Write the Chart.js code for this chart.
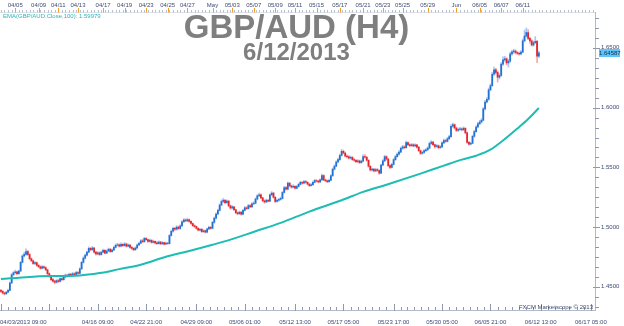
<!DOCTYPE html>
<html><head><meta charset="utf-8">
<script src="https://cdn.jsdelivr.net/npm/chart.js@4/dist/chart.umd.min.js"></script>
<style>
html,body{margin:0;padding:0;background:#fff;}
#wrap{position:relative;width:624px;height:326px;overflow:hidden;font-family:"Liberation Sans",Arial,sans-serif;}
canvas{position:absolute;left:0;top:0;}
.t{position:absolute;white-space:nowrap;}
.ax{font-size:6px;line-height:7px;color:#3e4b75;}
#title{left:0;width:593px;text-align:center;top:9.6px;font-size:33px;line-height:33px;font-weight:bold;color:#7f7f7f;}
#sub{left:0;width:593px;text-align:center;top:39.7px;font-size:24px;line-height:24px;font-weight:bold;color:#7f7f7f;}
#legend{left:3px;top:12px;font-size:6px;line-height:8px;color:#2fb4b4;}
#mark{right:31px;top:302.7px;font-size:6px;line-height:8px;color:#3e4a6e;}
#price{left:599px;width:21px;height:8px;font-size:6px;line-height:8px;text-align:center;background:#5cc6f7;color:#1b2a55;z-index:2;}
</style></head><body>
<div id="wrap">
<canvas id="c" width="624" height="326"></canvas>
<div class="t" id="title">GBP/AUD (H4)</div>
<div class="t" id="sub">6/12/2013</div>
<div class="t" id="legend">EMA(GBP/AUD.Close,100): 1.59979</div>
<div class="t" id="mark">FXCM Marketscope © 2013</div>
<div class="t" id="price">1.64587</div>
</div>
<script>
// ---- data (4-hour candles, 04/03/2013 09:00 ... 06/12/2013) ----
const firstOpen = 1.4470;
const closes = [
1.4462,1.4448,1.4441,1.4455,1.4470,1.4532,1.4601,1.4618,1.4625,1.4610,
1.4632,1.4705,1.4758,1.4772,1.4795,1.4770,1.4735,1.4718,1.4695,1.4702,
1.4680,1.4668,1.4655,1.4668,1.4660,1.4642,1.4610,1.4585,1.4560,1.4548,
1.4538,1.4552,1.4545,1.4568,1.4560,1.4582,1.4598,1.4590,1.4605,1.4598,
1.4610,1.4602,1.4620,1.4612,1.4650,1.4705,1.4740,1.4765,1.4790,1.4822,
1.4810,1.4825,1.4790,1.4775,1.4785,1.4770,1.4790,1.4805,1.4782,1.4800,
1.4815,1.4795,1.4808,1.4830,1.4848,1.4852,1.4840,1.4855,1.4845,1.4858,
1.4840,1.4850,1.4830,1.4822,1.4810,1.4825,1.4850,1.4865,1.4885,1.4878,
1.4905,1.4895,1.4880,1.4890,1.4872,1.4880,1.4868,1.4862,1.4875,1.4860,
1.4870,1.4858,1.4866,1.4862,1.4930,1.4965,1.4990,1.4982,1.5000,1.4988,
1.5010,1.5045,1.5060,1.5052,1.5062,1.5048,1.5030,1.5012,1.5005,1.4990,
1.4975,1.4982,1.4962,1.4970,1.4958,1.4985,1.4998,1.4990,1.5040,1.5075,
1.5110,1.5140,1.5185,1.5215,1.5225,1.5205,1.5218,1.5178,1.5160,1.5170,
1.5145,1.5120,1.5112,1.5125,1.5108,1.5140,1.5162,1.5155,1.5180,1.5170,
1.5195,1.5200,1.5235,1.5262,1.5270,1.5245,1.5220,1.5210,1.5225,1.5218,
1.5270,1.5285,1.5250,1.5215,1.5225,1.5232,1.5240,1.5290,1.5330,1.5318,
1.5368,1.5345,1.5335,1.5342,1.5325,1.5340,1.5358,1.5375,1.5368,1.5382,
1.5375,1.5360,1.5348,1.5355,1.5375,1.5390,1.5385,1.5378,1.5395,1.5432,
1.5395,1.5388,1.5380,1.5392,1.5430,1.5485,1.5510,1.5545,1.5565,1.5600,
1.5635,1.5620,1.5595,1.5590,1.5578,1.5585,1.5565,1.5560,1.5548,1.5555,
1.5540,1.5552,1.5590,1.5585,1.5560,1.5510,1.5478,1.5485,1.5470,1.5482,
1.5475,1.5452,1.5520,1.5555,1.5590,1.5570,1.5515,1.5500,1.5525,1.5565,
1.5590,1.5610,1.5628,1.5660,1.5672,1.5665,1.5708,1.5690,1.5682,1.5690,
1.5680,1.5688,1.5670,1.5640,1.5618,1.5625,1.5640,1.5648,1.5662,1.5700,
1.5712,1.5690,1.5675,1.5682,1.5665,1.5672,1.5705,1.5725,1.5718,1.5740,
1.5758,1.5845,1.5858,1.5830,1.5810,1.5818,1.5822,1.5815,1.5828,1.5790,
1.5710,1.5695,1.5702,1.5760,1.5800,1.5838,1.5865,1.5880,1.5895,1.5990,
1.6048,1.6070,1.6150,1.6185,1.6280,1.6318,1.6295,1.6255,1.6270,1.6365,
1.6400,1.6410,1.6375,1.6390,1.6450,1.6468,1.6475,1.6462,1.6455,1.6450,
1.6465,1.6560,1.6600,1.6630,1.6580,1.6560,1.6525,1.6545,1.6555,1.6432,
1.64587];
const highs = [
1.4478,1.4468,1.4455,1.4462,1.4480,1.4540,1.4610,1.4628,1.4640,1.4632,
1.4640,1.4712,1.4768,1.4790,1.4818,1.4805,1.4778,1.4742,1.4725,1.4712,
1.4708,1.4690,1.4675,1.4678,1.4675,1.4668,1.4648,1.4618,1.4592,1.4570,
1.4555,1.4560,1.4562,1.4575,1.4578,1.4590,1.4608,1.4605,1.4615,1.4612,
1.4620,1.4618,1.4630,1.4628,1.4660,1.4712,1.4752,1.4775,1.4800,1.4835,
1.4830,1.4838,1.4830,1.4798,1.4795,1.4792,1.4800,1.4815,1.4812,1.4808,
1.4825,1.4820,1.4818,1.4840,1.4860,1.4865,1.4860,1.4868,1.4862,1.4870,
1.4865,1.4860,1.4855,1.4838,1.4828,1.4835,1.4858,1.4875,1.4895,1.4898,
1.4915,1.4912,1.4900,1.4900,1.4895,1.4890,1.4885,1.4878,1.4885,1.4880,
1.4878,1.4875,1.4875,1.4872,1.4938,1.4975,1.5000,1.4998,1.5012,1.5008,
1.5020,1.5055,1.5072,1.5068,1.5075,1.5068,1.5052,1.5035,1.5020,1.5010,
1.4995,1.4990,1.4988,1.4978,1.4975,1.4992,1.5008,1.5005,1.5048,1.5085,
1.5120,1.5150,1.5195,1.5228,1.5240,1.5232,1.5228,1.5222,1.5185,1.5180,
1.5175,1.5150,1.5128,1.5135,1.5130,1.5148,1.5172,1.5170,1.5190,1.5188,
1.5205,1.5212,1.5245,1.5272,1.5285,1.5278,1.5250,1.5228,1.5235,1.5232,
1.5278,1.5298,1.5290,1.5255,1.5235,1.5242,1.5252,1.5298,1.5342,1.5340,
1.5378,1.5375,1.5352,1.5355,1.5348,1.5350,1.5368,1.5385,1.5382,1.5392,
1.5390,1.5380,1.5365,1.5365,1.5385,1.5400,1.5398,1.5392,1.5405,1.5445,
1.5438,1.5402,1.5395,1.5402,1.5440,1.5495,1.5522,1.5555,1.5578,1.5612,
1.5650,1.5645,1.5628,1.5605,1.5598,1.5595,1.5590,1.5575,1.5568,1.5565,
1.5562,1.5562,1.5605,1.5608,1.5592,1.5565,1.5515,1.5495,1.5490,1.5492,
1.5490,1.5480,1.5528,1.5565,1.5602,1.5598,1.5575,1.5522,1.5535,1.5575,
1.5600,1.5622,1.5640,1.5670,1.5685,1.5682,1.5720,1.5715,1.5698,1.5700,
1.5698,1.5698,1.5692,1.5675,1.5645,1.5635,1.5650,1.5658,1.5672,1.5712,
1.5725,1.5718,1.5695,1.5692,1.5688,1.5682,1.5715,1.5738,1.5735,1.5752,
1.5770,1.5858,1.5872,1.5865,1.5838,1.5830,1.5835,1.5832,1.5840,1.5832,
1.5795,1.5718,1.5712,1.5770,1.5812,1.5850,1.5878,1.5895,1.5910,1.6002,
1.6060,1.6085,1.6165,1.6200,1.6295,1.6340,1.6330,1.6305,1.6285,1.6378,
1.6425,1.6430,1.6418,1.6405,1.6465,1.6480,1.6490,1.6485,1.6470,1.6465,
1.6478,1.6575,1.6650,1.6668,1.6655,1.6590,1.6570,1.6560,1.6595,1.6565,
1.6475];
const lows = [
1.4452,1.4440,1.4432,1.4436,1.4450,1.4466,1.4528,1.4592,1.4608,1.4600,
1.4605,1.4628,1.4700,1.4750,1.4765,1.4762,1.4728,1.4710,1.4688,1.4685,
1.4672,1.4660,1.4648,1.4650,1.4652,1.4635,1.4602,1.4578,1.4552,1.4538,
1.4525,1.4530,1.4535,1.4540,1.4552,1.4555,1.4575,1.4582,1.4585,1.4590,
1.4592,1.4595,1.4598,1.4605,1.4608,1.4645,1.4698,1.4732,1.4758,1.4785,
1.4800,1.4805,1.4782,1.4765,1.4768,1.4762,1.4765,1.4785,1.4775,1.4778,
1.4795,1.4788,1.4790,1.4802,1.4825,1.4840,1.4832,1.4835,1.4838,1.4840,
1.4832,1.4835,1.4822,1.4812,1.4802,1.4805,1.4820,1.4845,1.4860,1.4870,
1.4872,1.4888,1.4872,1.4875,1.4865,1.4866,1.4860,1.4855,1.4858,1.4852,
1.4855,1.4850,1.4852,1.4855,1.4858,1.4925,1.4958,1.4972,1.4975,1.4980,
1.4982,1.5005,1.5038,1.5045,1.5045,1.5040,1.5022,1.5005,1.4995,1.4982,
1.4968,1.4968,1.4955,1.4955,1.4950,1.4952,1.4978,1.4982,1.4985,1.5032,
1.5068,1.5102,1.5135,1.5178,1.5205,1.5195,1.5198,1.5170,1.5150,1.5152,
1.5138,1.5112,1.5102,1.5105,1.5100,1.5102,1.5135,1.5148,1.5150,1.5162,
1.5165,1.5188,1.5195,1.5228,1.5255,1.5238,1.5212,1.5200,1.5205,1.5210,
1.5212,1.5262,1.5242,1.5205,1.5208,1.5218,1.5225,1.5235,1.5285,1.5310,
1.5312,1.5338,1.5325,1.5328,1.5318,1.5320,1.5335,1.5352,1.5360,1.5362,
1.5368,1.5352,1.5340,1.5342,1.5350,1.5370,1.5378,1.5370,1.5372,1.5390,
1.5388,1.5380,1.5372,1.5375,1.5388,1.5425,1.5478,1.5505,1.5538,1.5558,
1.5595,1.5612,1.5588,1.5580,1.5570,1.5570,1.5558,1.5550,1.5540,1.5540,
1.5532,1.5535,1.5548,1.5578,1.5552,1.5502,1.5470,1.5468,1.5462,1.5465,
1.5465,1.5442,1.5448,1.5515,1.5548,1.5560,1.5505,1.5490,1.5495,1.5520,
1.5558,1.5585,1.5602,1.5622,1.5652,1.5655,1.5660,1.5682,1.5672,1.5675,
1.5672,1.5672,1.5662,1.5632,1.5608,1.5610,1.5618,1.5632,1.5640,1.5655,
1.5692,1.5682,1.5662,1.5668,1.5655,1.5658,1.5668,1.5698,1.5710,1.5712,
1.5732,1.5752,1.5835,1.5820,1.5800,1.5802,1.5810,1.5805,1.5808,1.5780,
1.5700,1.5685,1.5688,1.5698,1.5752,1.5795,1.5830,1.5858,1.5872,1.5890,
1.5982,1.6040,1.6062,1.6140,1.6178,1.6270,1.6280,1.6215,1.6240,1.6262,
1.6355,1.6388,1.6360,1.6340,1.6380,1.6440,1.6455,1.6450,1.6445,1.6440,
1.6442,1.6460,1.6552,1.6590,1.6570,1.6540,1.6515,1.6515,1.6535,1.6378,
1.6420];
// EMA(100) read at sampled bars
const emaBars = [0,16,27,44,55,66,78,92,105,118,128,142,156,172,190,202,215,234,247,257,265,273,280,288,294,300];
const emaValues = [1.4565,1.4583,1.4590,1.4595,1.4615,1.4648,1.4685,1.4752,1.4800,1.4852,1.4895,1.4965,1.5035,1.5130,1.5225,1.5295,1.5355,1.5448,1.5515,1.5565,1.5598,1.5648,1.5725,1.5825,1.5905,1.59979];
// axis ticks
const bottomTickBars = [0,27,54,81,109,136,164,191,219,246,273,301,329];
const bottomTickLabels = ["04/03/2013 09:00","","04/16 09:00","04/22 21:00","04/29 09:00","05/06 01:00","05/12 13:00","05/17 05:00","05/23 17:00","05/30 05:00","06/05 21:00","06/12 13:00","06/17 05:00"];
const topTickBars = [8,21,32,43,57,69,81,93,104,118,129,141,153,164,176,189,202,213,224,238,254,267,279,291];
const topTickLabels = ["04/05","04/09","04/11","04/13","04/17","04/19","04/23","04/25","04/27","May","05/03","05/07","05/09","05/11","05/15","05/17","05/21","05/23","05/25","05/29","Jun","06/05","06/07","06/11"];
const priceTicks = [1.45,1.50,1.55,1.60,1.65];
const priceTickLabels = ["1.4500","1.5000","1.5500","1.6000","1.6500"];
const lastPrice = 1.64587;

// ---- chart ----
const opens = closes.map((c,i)=> i===0 ? firstOpen : closes[i-1]);
const bars = closes.map((_,i)=>i);
const UP='#2170d4', DOWN='#e4232b', UPW='#a9c6ee', DOWNW='#f3a7aa';
const XMIN=-0.5, XMAX=331.3;
let textBuilt=false;

function buildAxisText(chart){
  const wrap=document.getElementById('wrap'); const x=chart.scales.x, y=chart.scales.y, a=chart.chartArea;
  const add=(txt,left,top,center)=>{const d=document.createElement('div'); d.className='t ax'; d.textContent=txt; d.style.left=left+'px'; d.style.top=top+'px'; if(center) d.style.transform='translateX(-50%)'; wrap.appendChild(d); return d;};
  bottomTickBars.forEach((b,k)=>{ const t=bottomTickLabels[k]; if(!t) return; const p=x.getPixelForValue(b); if(k===0) add(t,0,318.5,false); else add(t,p,318.5,true); });
  topTickBars.forEach((b,k)=>{ add(topTickLabels[k], x.getPixelForValue(b), 1.5, true); });
  priceTicks.forEach((v,k)=>{ add(priceTickLabels[k], a.right+6, y.getPixelForValue(v)-3.5, false); });
}

const ruler = {
  id:'ruler',
  afterDraw(chart){
    const {ctx, chartArea:a, scales} = chart;
    const x = scales.x, y = scales.y;
    const ln=(x1,y1,x2,y2,c)=>{ctx.strokeStyle=c;ctx.beginPath();ctx.moveTo(x1,y1);ctx.lineTo(x2,y2);ctx.stroke();};
    ctx.save(); ctx.lineWidth=1;
    ln(a.left, a.top+0.5, a.right, a.top+0.5, '#dde1e8');
    for(let v=0; v<=XMAX; v+=2){ const p=Math.round(x.getPixelForValue(v))+0.5; ln(p,a.top-2,p,a.top+0.5,'#b9bfcc'); }
    topTickBars.forEach(v=>{ const p=Math.round(x.getPixelForValue(v))+0.5; ln(p,a.top-4,p,a.top+0.5,'#f0a02a'); });
    for(let k=0;k<bottomTickBars.length-1;k++){
      const b0=bottomTickBars[k], b1=bottomTickBars[k+1];
      for(let s=1;s<7;s++){ const p=Math.round(x.getPixelForValue(b0+(b1-b0)*s/7))+0.5; ln(p,a.bottom-3,p,a.bottom,'#8f98ad'); }
    }
    bottomTickBars.forEach(v=>{ const p=Math.round(x.getPixelForValue(v))+0.5; ln(p,a.bottom-6,p,a.bottom+1,'#8f98ad'); });
    for(let v=1.4; v<=1.7; v+=0.05/6){ const py=Math.round(y.getPixelForValue(v))+0.5; if(py<a.top||py>a.bottom) continue; ln(a.right,py,a.right+4,py,'#8f98ad'); }
    priceTicks.forEach(v=>{ const py=Math.round(y.getPixelForValue(v))+0.5; ln(a.right-2,py,a.right+5,py,'#8f98ad'); });
    ctx.restore();
    document.getElementById('price').style.top=(y.getPixelForValue(lastPrice)-4)+'px';
    if(!textBuilt){ textBuilt=true; buildAxisText(chart); }
  }
};

new Chart(document.getElementById('c'), {
  type:'bar',
  data:{
    datasets:[
      {type:'line', label:'EMA', data:emaBars.map((b,k)=>({x:b,y:emaValues[k]})), borderColor:'#1dbdb5', borderWidth:2, pointRadius:0, cubicInterpolationMode:'monotone', order:0},
      {type:'bar', label:'body', data:bars.map(i=>({x:i,y:[opens[i],closes[i]]})), backgroundColor:c=>closes[c.dataIndex]>=opens[c.dataIndex]?UP:DOWN, barThickness:1.1, borderWidth:0, order:1},
      {type:'bar', label:'wick', data:bars.map(i=>({x:i,y:[lows[i],highs[i]]})), backgroundColor:c=>closes[c.dataIndex]>=opens[c.dataIndex]?UPW:DOWNW, barThickness:1, borderWidth:0, order:2}
    ]
  },
  options:{
    responsive:false, animation:false, devicePixelRatio:1, events:[],
    layout:{padding:0},
    datasets:{bar:{grouped:false}},
    plugins:{legend:{display:false}, tooltip:{enabled:false}, title:{display:false}},
    scales:{
      x:{type:'linear', position:'bottom', min:XMIN, max:XMAX, offset:false,
        afterFit:s=>{s.height=16;},
        ticks:{display:false},
        grid:{display:false}, border:{display:true, color:'#b3bbcb'}},
      y:{type:'linear', position:'right', min:1.43057, max:1.68015,
        afterFit:s=>{s.width=29;},
        ticks:{display:false},
        grid:{display:false}, border:{display:true, color:'#b3bbcb'}},
      x2:{type:'linear', position:'top', min:XMIN, max:XMAX, display:true,
        afterFit:s=>{s.height=12;},
        ticks:{display:false}, grid:{display:false}, border:{display:false}}
    }
  },
  plugins:[ruler]
});
</script>
</body></html>
